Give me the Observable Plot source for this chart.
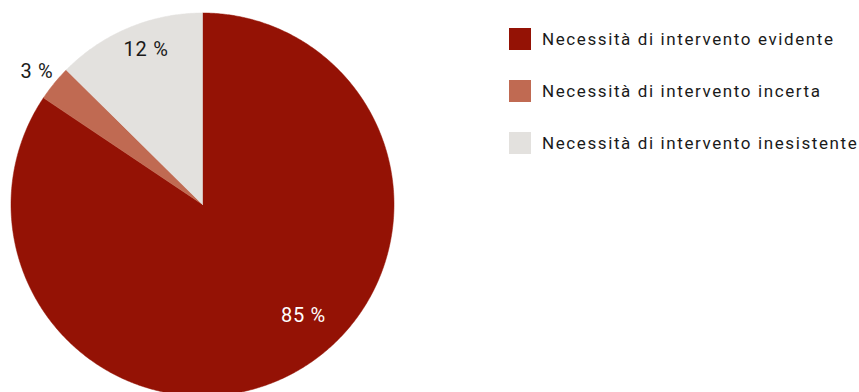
<!DOCTYPE html>
<html>
<head>
<meta charset="utf-8">
<script src="https://cdn.jsdelivr.net/npm/d3@7"></script>
<script src="https://cdn.jsdelivr.net/npm/@observablehq/plot@0.6"></script>
<style>
  html, body { margin: 0; padding: 0; background: #fff; }
  #wrap { position: relative; width: 859px; height: 392px; overflow: hidden; font-family: Roboto, "Noto Sans", sans-serif; }
  #legend { position: absolute; left: 509px; top: 28px; }
  .item { display: flex; align-items: center; height: 22px; margin-bottom: 30px; font-size: 17px; letter-spacing: 1.6px; color: #1a1a1a; white-space: nowrap; }
  .sw { width: 22px; height: 22px; margin-right: 11px; flex: none; }
</style>
</head>
<body>
<div id="wrap"></div>
<script>
const categories = ["Necessità di intervento evidente", "Necessità di intervento incerta", "Necessità di intervento inesistente"];
const values = [84.4, 3.0, 12.6];
const labels = ["85 %", "3 %", "12 %"];
const colors = ["#941205", "#c06a52", "#e3e1de"];

// layout (pixels)
const W = 859, H = 392, CX = 202, CY = 204, R = 191.5;
const labelRadius = [0.785, 1.109, 0.859];
const labelShiftDeg = [-14.1, -0.5, 2.6];
const labelColors = ["#ffffff", "#1a1a1a", "#1a1a1a"];

const total = d3.sum(values);
const slices = [];
const labelData = [];
let acc = 0;
values.forEach((v, i) => {
  const a0 = acc / total * 2 * Math.PI;
  acc += v;
  const a1 = acc / total * 2 * Math.PI;
  const n = Math.max(4, Math.ceil((a1 - a0) / (Math.PI / 360)));
  slices.push({cat: categories[i], x: 0, y: 0});
  for (let k = 0; k <= n; k++) {
    const a = a0 + (a1 - a0) * k / n;
    slices.push({cat: categories[i], x: Math.sin(a), y: Math.cos(a)});
  }
  slices.push({cat: categories[i], x: 0, y: 0});
  const am = (a0 + a1) / 2 + labelShiftDeg[i] * Math.PI / 180;
  labelData.push({label: labels[i], x: labelRadius[i] * Math.sin(am), y: labelRadius[i] * Math.cos(am), c: labelColors[i]});
});

const chart = Plot.plot({
  width: W, height: H,
  margin: 0,
  style: {fontFamily: "Roboto, 'Noto Sans', sans-serif", background: "transparent", letterSpacing: "0.7px"},
  x: {domain: [-CX / R, (W - CX) / R], axis: null},
  y: {domain: [-(H - CY) / R, CY / R], axis: null},
  color: {domain: categories, range: colors},
  marks: [
    Plot.line(slices, {x: "x", y: "y", z: "cat", fill: "cat", stroke: "cat", strokeWidth: 0.5, curve: "linear"}),
    Plot.text(labelData, {x: "x", y: "y", text: "label", fill: "c", fontSize: 20})
  ]
});
const wrap = document.getElementById("wrap");
wrap.appendChild(chart);

const legend = document.createElement("div");
legend.id = "legend";
categories.forEach((c, i) => {
  const it = document.createElement("div");
  it.className = "item";
  const sw = document.createElement("div");
  sw.className = "sw";
  sw.style.background = colors[i];
  const t = document.createElement("span");
  t.textContent = c;
  it.appendChild(sw); it.appendChild(t);
  legend.appendChild(it);
});
wrap.appendChild(legend);
</script>
</body>
</html>
